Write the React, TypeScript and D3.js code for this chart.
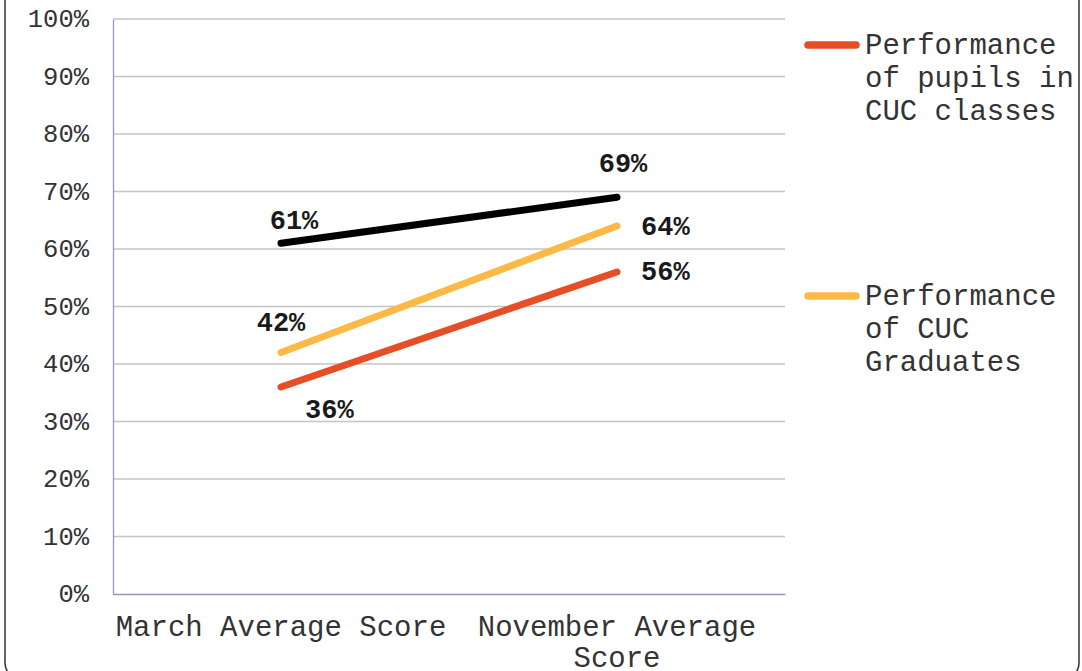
import React, { useEffect, useRef } from 'react'
import * as d3 from 'd3'

const categories = ['March Average Score', 'November Average Score']
const seriesNames = ['Overall', 'Performance of pupils in CUC classes', 'Performance of CUC Graduates']
const overall = [61, 69]
const pupils = [36, 56]
const graduates = [42, 64]
const yTicks = [0, 10, 20, 30, 40, 50, 60, 70, 80, 90, 100]

// label offsets from the point [dx, dy], per series and category
const labelOffsets = [
  [[13, -14], [6, -25]],
  [[24, 31], [24, 8]],
  [[0, -22], [24, 9]],
]

const colors = ['#000000', '#e84e26', '#fdb946']
const mono = '"Liberation Mono", "Courier New", monospace'

function App() {
  const ref = useRef<SVGSVGElement>(null)

  useEffect(() => {
    drawChart(ref.current as SVGSVGElement, 1082, 671)
  }, [])

  return <svg ref={ref} style={{ position: 'absolute', left: 0, top: 0 }} />
}

function drawChart(el: SVGSVGElement, w: number, h: number) {
  const marge = { top: 19, left: 113, right: 297, bottom: 77 }
  const svg = d3.select(el).attr('width', w).attr('height', h)
  svg.selectAll('*').remove()

  // outer frame (top and bottom edges fall outside the picture)
  svg.append('rect')
    .attr('x', 5).attr('y', -20)
    .attr('width', w - 8).attr('height', h + 28)
    .attr('rx', 16)
    .attr('fill', '#fff')
    .attr('stroke', '#333')
    .attr('stroke-width', 1.5)

  const x = d3.scalePoint<string>()
    .domain(categories)
    .range([marge.left, w - marge.right])
    .padding(0.5)
  const y = d3.scaleLinear().domain([0, 100]).range([h - marge.bottom, marge.top])

  // gridlines
  svg.append('g')
    .selectAll('line')
    .data(yTicks.filter(d => d > 0))
    .enter()
    .append('line')
    .attr('x1', marge.left).attr('x2', w - marge.right)
    .attr('y1', d => y(d)).attr('y2', d => y(d))
    .attr('stroke', '#c4c4c4')
    .attr('stroke-width', 1.3)

  // axes
  const yAxis = svg.append('g')
    .attr('transform', 'translate(' + marge.left + ',0)')
    .call(d3.axisLeft(y).tickValues(yTicks).tickSize(0).tickPadding(24).tickFormat(d => d + '%'))
  yAxis.select('.domain').attr('stroke', '#9296c4').attr('stroke-width', 1.3)
  yAxis.selectAll('text')
    .attr('font-family', mono).attr('font-size', 25.5).attr('fill', '#333')
    .attr('dy', '0.3em')

  const xAxis = svg.append('g')
    .attr('transform', 'translate(0,' + (h - marge.bottom) + ')')
    .call(d3.axisBottom(x).tickSize(0).tickFormat(() => ''))
  xAxis.select('.domain').attr('stroke', '#9296c4').attr('stroke-width', 1.3)

  // category labels, wrapped to the band width
  const band = x.step()
  const charW = 29 * 0.6
  categories.forEach(c => {
    const words = c.split(' ')
    const lines: string[] = []
    let cur = ''
    words.forEach(wd => {
      const t = cur ? cur + ' ' + wd : wd
      if (t.length * charW > band && cur) {
        lines.push(cur)
        cur = wd
      } else cur = t
    })
    lines.push(cur)
    const t = svg.append('text')
      .attr('font-family', mono).attr('font-size', 29).attr('fill', '#333')
      .attr('text-anchor', 'middle')
    lines.forEach((l, i) => {
      t.append('tspan').attr('x', x(c) as number).attr('y', h - marge.bottom + 42 + i * 31).text(l)
    })
  })

  // lines
  const allSeries = [overall, pupils, graduates]
  const line = d3.line<number>()
    .x((d, i) => x(categories[i]) as number)
    .y(d => y(d))
  allSeries.forEach((s, si) => {
    svg.append('path')
      .datum(s)
      .attr('d', line)
      .attr('fill', 'none')
      .attr('stroke', colors[si])
      .attr('stroke-width', 7)
      .attr('stroke-linecap', 'round')
  })

  // data labels
  allSeries.forEach((s, si) => {
    s.forEach((v, i) => {
      const off = labelOffsets[si][i]
      svg.append('text')
        .attr('x', (x(categories[i]) as number) + off[0])
        .attr('y', y(v) + off[1])
        .attr('text-anchor', off[0] > 20 ? 'start' : 'middle')
        .attr('font-family', mono)
        .attr('font-size', 27)
        .attr('font-weight', 'bold')
        .attr('fill', '#1a1a1a')
        .text(v + '%')
    })
  })

  // legend
  const legendItems = [
    { si: 1, y: 45, lines: ['Performance', 'of pupils in', 'CUC classes'] },
    { si: 2, y: 296, lines: ['Performance', 'of CUC', 'Graduates'] },
  ]
  legendItems.forEach(item => {
    svg.append('line')
      .attr('x1', 808).attr('x2', 856)
      .attr('y1', item.y).attr('y2', item.y)
      .attr('stroke', colors[item.si])
      .attr('stroke-width', 7.5)
      .attr('stroke-linecap', 'round')
    const t = svg.append('text')
      .attr('font-family', mono).attr('font-size', 29).attr('fill', '#333')
    item.lines.forEach((l, i) => {
      t.append('tspan').attr('x', 865).attr('y', item.y + 9 + i * 33).text(l)
    })
  })
  void seriesNames
}

export default App
